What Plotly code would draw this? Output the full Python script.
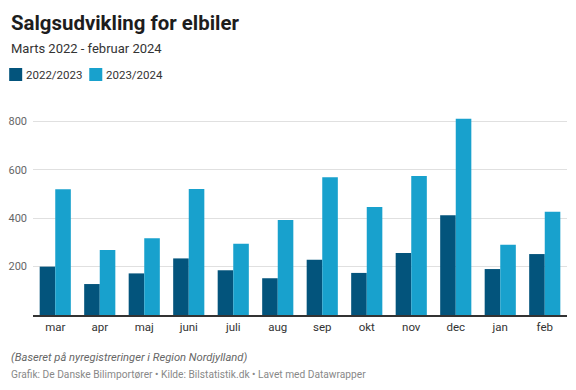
import plotly.graph_objects as go

months = ["mar", "apr", "maj", "juni", "juli", "aug", "sep", "okt", "nov", "dec", "jan", "feb"]
s2022 = [200, 128, 172, 234, 185, 152, 228, 174, 256, 412, 190, 252]
s2023 = [520, 269, 317, 521, 295, 393, 570, 447, 575, 811, 291, 427]
series_names = ["2022/2023", "2023/2024"]
colors = ["#03547c", "#18a1cd"]
yticks = [200, 400, 600, 800]

FONT = "Roboto"
OFF = 8  # default body margin of the html page
W, H = 576 - OFF, 390 - OFF
ML, MR, MT, MB = 33.3 - OFF, 9.3, 115 - OFF, 75
PW, PH = W - ML - MR, H - MT - MB


def px(x):
    return (x - OFF - ML) / PW


def py(y):
    return (H - MB - (y - OFF)) / PH


fig = go.Figure()
for name, vals, col in zip(series_names, [s2022, s2023], colors):
    fig.add_trace(go.Bar(name=name, x=months, y=vals, marker=dict(color=col, line=dict(width=0)),
                         showlegend=False))

fig.update_layout(
    width=W, height=H,
    margin=dict(l=ML, r=MR, t=MT, b=MB, pad=0, autoexpand=False),
    paper_bgcolor="white", plot_bgcolor="white",
    font=dict(family=FONT, size=12, color="#333"),
    barmode="group", bargap=0.3, bargroupgap=0.0,
    xaxis=dict(showgrid=False, showline=True, linecolor="#333", linewidth=1.5, automargin=False,
               ticks="", tickfont=dict(size=11.5, color="#333"), fixedrange=True),
    yaxis=dict(range=[0, 827], tickvals=yticks, showgrid=True, gridcolor="#e0e0e0", automargin=False,
               gridwidth=1, zeroline=False, ticks="", ticklabelstandoff=5,
               tickfont=dict(size=11, color="#666")),
)

notes = [
    ("<b>Salgsudvikling for elbiler</b>", 9, 20.4, "#1d1d1d"),
    ("Marts 2022 - februar 2024", 39, 13, "#333"),
    ("<i>(Baseret på nyregistreringer i Region Nordjylland)</i>", 349, 11.2, "#666"),
    ("Grafik: De Danske Bilimportører • Kilde: Bilstatistik.dk • Lavet med Datawrapper", 367, 10.2, "#888"),
]
for text, top, size, color in notes:
    fig.add_annotation(text=text, xref="paper", yref="paper", x=px(9), y=py(top),
                       xanchor="left", yanchor="top", showarrow=False,
                       font=dict(size=size, color=color, family=FONT))

# legend: swatches + labels
leg_x = [9.5, 89.5]
for lx, name, col in zip(leg_x, series_names, colors):
    fig.add_shape(type="rect", xref="paper", yref="paper", x0=px(lx), x1=px(lx + 13),
                  y0=py(81), y1=py(68), fillcolor=col, line=dict(width=0))
    fig.add_annotation(text=name, xref="paper", yref="paper", x=px(lx + 15), y=py(74.5),
                       xanchor="left", yanchor="middle", showarrow=False,
                       font=dict(size=11.5, color="#333", family=FONT))

fig.write_html("out.html")
